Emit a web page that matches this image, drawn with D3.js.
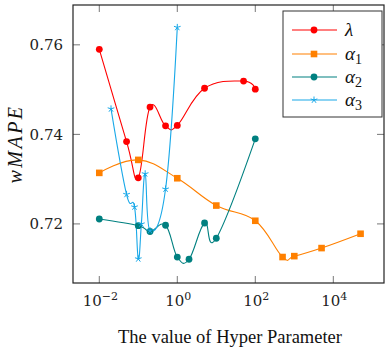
<!DOCTYPE html>
<html>
<head>
<meta charset="utf-8">
<script src="https://cdn.jsdelivr.net/npm/d3@7"></script>
<style>
  body { margin: 0; background: #fff; }
  svg { display: block; }
</style>
</head>
<body>
<script>
const W = 386, H = 352;
const margin = { top: 5, right: 2, bottom: 69, left: 73 };

// hyper parameter values and wMAPE per series
const lambdaX = [0.01, 0.05, 0.1, 0.2, 0.5, 1, 5, 50, 100];
const lambdaY = [0.759, 0.7384, 0.7303, 0.7461, 0.7419, 0.742, 0.7503, 0.7519, 0.7501];
const alpha1X = [0.01, 0.1, 1, 10, 100, 500, 1000, 5000, 50000];
const alpha1Y = [0.7314, 0.7343, 0.7302, 0.7241, 0.7207, 0.7126, 0.7128, 0.7146, 0.7178];
const alpha2X = [0.01, 0.1, 0.2, 0.5, 1, 2, 5, 10, 100];
const alpha2Y = [0.7211, 0.7196, 0.7183, 0.7197, 0.7126, 0.7121, 0.7202, 0.7168, 0.739];
const alpha3X = [0.02, 0.05, 0.08, 0.1, 0.12, 0.15, 0.2, 0.5, 1];
const alpha3Y = [0.7457, 0.7266, 0.7238, 0.7122, 0.72, 0.7312, 0.7185, 0.7278, 0.7639];

const xTicks = [1e-2, 1e0, 1e2, 1e4];
const xTickExp = ["\u22122", "0", "2", "4"];
const yTicks = [0.72, 0.74, 0.76];

const series = [
  { name: "lambda", xs: lambdaX, ys: lambdaY, color: "#ff0000", marker: "circle" },
  { name: "a1", xs: alpha1X, ys: alpha1Y, color: "#ff8000", marker: "square" },
  { name: "a2", xs: alpha2X, ys: alpha2Y, color: "#008080", marker: "circle" },
  { name: "a3", xs: alpha3X, ys: alpha3Y, color: "#18a8e8", marker: "star" }
];

const width = W - margin.left - margin.right;
const height = H - margin.top - margin.bottom;

const svg = d3.select("body").append("svg").attr("width", W).attr("height", H);
const g = svg.append("g").attr("transform", `translate(${margin.left},${margin.top})`);

const xScale = d3.scaleLog().domain([Math.pow(10, -2.674), Math.pow(10, 5.30)]).range([0, width]);
const yScale = d3.scaleLinear().domain([0.7068, 0.7689]).range([height, 0]);

const numFont = "DejaVu Serif";
const textFont = "Liberation Serif";

// ticks (inward, on all four sides)
const tickLen = 7;
xTicks.forEach((t) => {
  const x = xScale(t);
  g.append("line").attr("x1", x).attr("x2", x).attr("y1", height).attr("y2", height - tickLen)
    .attr("stroke", "#777").attr("stroke-width", 1);
  g.append("line").attr("x1", x).attr("x2", x).attr("y1", 0).attr("y2", tickLen)
    .attr("stroke", "#777").attr("stroke-width", 1);
});
yTicks.forEach((t) => {
  const y = yScale(t);
  g.append("line").attr("x1", 0).attr("x2", tickLen).attr("y1", y).attr("y2", y)
    .attr("stroke", "#777").attr("stroke-width", 1);
  g.append("line").attr("x1", width).attr("x2", width - tickLen).attr("y1", y).attr("y2", y)
    .attr("stroke", "#777").attr("stroke-width", 1);
});

// tick labels
xTicks.forEach((t, i) => {
  const txt = g.append("text")
    .attr("x", xScale(t) + 1)
    .attr("y", height + 23)
    .attr("text-anchor", "middle")
    .attr("font-family", numFont)
    .attr("font-size", "15px")
    .attr("fill", "#222");
  txt.append("tspan").text("10");
  txt.append("tspan").attr("dy", -6).attr("font-size", "11px").text(xTickExp[i]);
});
yTicks.forEach((t) => {
  g.append("text")
    .attr("x", -10)
    .attr("y", yScale(t))
    .attr("dy", "0.36em")
    .attr("text-anchor", "end")
    .attr("font-family", numFont)
    .attr("font-size", "15px")
    .attr("fill", "#222")
    .text(d3.format(".2f")(t));
});

// lines
svg.append("clipPath").attr("id", "plotclip")
  .append("rect").attr("width", width).attr("height", height);

const line = d3.line()
  .x((d) => xScale(d[0]))
  .y((d) => yScale(d[1]))
  .curve(d3.curveCardinal.tension(-0.2));

const plot = g.append("g").attr("clip-path", "url(#plotclip)");

function starPath(r) {
  let p = "";
  for (let k = 0; k < 5; k++) {
    const a = -Math.PI / 2 + (k * 2 * Math.PI) / 5;
    p += `M0,0L${(r * Math.cos(a)).toFixed(2)},${(r * Math.sin(a)).toFixed(2)}`;
  }
  return p;
}

function drawMarker(sel, type, color) {
  if (type === "circle") {
    sel.append("circle").attr("r", 3.4).attr("fill", color);
  } else if (type === "square") {
    sel.append("rect").attr("x", -3.3).attr("y", -3.3).attr("width", 6.6).attr("height", 6.6).attr("fill", color);
  } else {
    sel.append("path").attr("d", starPath(3.5)).attr("stroke", color).attr("stroke-width", 1).attr("fill", "none");
  }
}

series.forEach((s) => {
  const pts = s.xs.map((x, i) => [x, s.ys[i]]);
  plot.append("path")
    .datum(pts)
    .attr("d", line)
    .attr("fill", "none")
    .attr("stroke", s.color)
    .attr("stroke-width", 1.1);
});
series.forEach((s) => {
  const pts = s.xs.map((x, i) => [x, s.ys[i]]);
  pts.forEach((p) => {
    const m = plot.append("g").attr("transform", `translate(${xScale(p[0])},${yScale(p[1])})`);
    drawMarker(m, s.marker, s.color);
  });
});

// frame
g.append("rect").attr("width", width).attr("height", height)
  .attr("fill", "none").attr("stroke", "#222").attr("stroke-width", 1.2);

// legend
const leg = svg.append("g").attr("transform", "translate(283,11)");
leg.append("rect").attr("width", 99).attr("height", 106)
  .attr("fill", "#fff").attr("stroke", "#333").attr("stroke-width", 1);
const legRows = [19, 43, 66, 89];
series.forEach((s, i) => {
  const row = leg.append("g").attr("transform", `translate(0,${legRows[i]})`);
  row.append("line").attr("x1", 9).attr("x2", 54).attr("stroke", s.color).attr("stroke-width", 1.1);
  const m = row.append("g").attr("transform", "translate(31,0)");
  drawMarker(m, s.marker, s.color);
  const t = row.append("text")
    .attr("x", 62)
    .attr("dy", "0.33em")
    .attr("font-family", textFont)
    .attr("font-style", "italic")
    .attr("font-size", "19px")
    .attr("fill", "#111");
  if (i === 0) {
    t.text("\u03bb");
  } else {
    t.append("tspan").text("\u03b1");
    t.append("tspan").attr("dy", 4).attr("font-style", "normal").attr("font-size", "14px").text(String(i));
  }
});

// axis titles
svg.append("text")
  .attr("x", 230)
  .attr("y", 343)
  .attr("text-anchor", "middle")
  .attr("font-family", textFont)
  .attr("font-size", "18.5px")
  .attr("fill", "#111")
  .text("The value of Hyper Parameter");

svg.append("text")
  .attr("transform", "translate(22,144) rotate(-90)")
  .attr("text-anchor", "middle")
  .attr("font-family", textFont)
  .attr("font-style", "italic")
  .attr("font-size", "20px")
  .attr("letter-spacing", "2.5px")
  .attr("fill", "#111")
  .text("wMAPE");
</script>
</body>
</html>
